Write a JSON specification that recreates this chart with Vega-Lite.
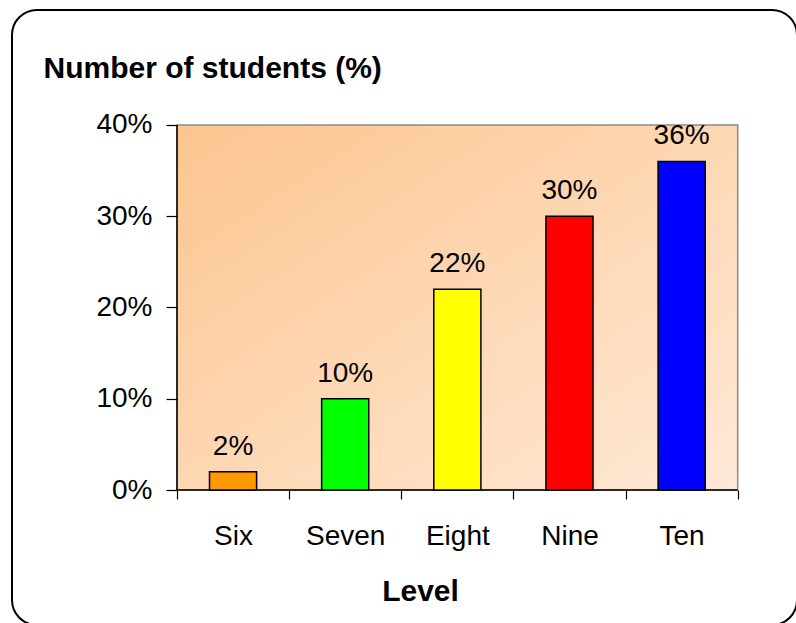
{
  "$schema": "https://vega.github.io/schema/vega-lite/v6.json",
  "width": 785,
  "height": 615,
  "autosize": {"type": "none"},
  "padding": {"left": 12, "top": 10, "right": -1, "bottom": -2},
  "background": "white",
  "view": {"stroke": "black", "strokeWidth": 2, "cornerRadius": 25, "fill": "white"},
  "config": {
    "font": "Liberation Sans",
    "axis": {"labelColor": "black", "titleColor": "black", "tickColor": "black", "labelFont": "Liberation Sans", "titleFont": "Liberation Sans"}
  },
  "datasets": {
    "levels": [
      {"level": "Six", "share": 0.02},
      {"level": "Seven", "share": 0.10},
      {"level": "Eight", "share": 0.22},
      {"level": "Nine", "share": 0.30},
      {"level": "Ten", "share": 0.36}
    ],
    "frame": [{}]
  },
  "resolve": {"scale": {"x": "independent"}},
  "layer": [
    {
      "data": {"name": "frame"},
      "mark": {
        "type": "rect",
        "fill": {
          "gradient": "linear",
          "x1": 0, "y1": 0, "x2": 1, "y2": 1,
          "stops": [
            {"offset": 0, "color": "#FCC58F"},
            {"offset": 1, "color": "#FFE9D7"}
          ]
        },
        "stroke": "#8a8a8a",
        "strokeWidth": 1.5
      },
      "encoding": {
        "x": {"datum": 0, "type": "quantitative", "scale": {"domain": [-1.47138, 5.5288], "nice": false, "zero": false}, "axis": null},
        "x2": {"datum": 5},
        "y": {"datum": 0, "type": "quantitative", "scale": {"domain": [-0.147945, 0.526027], "nice": false, "zero": false}},
        "y2": {"datum": 0.4}
      }
    },
    {
      "data": {"name": "frame"},
      "mark": {"type": "rule", "color": "black", "strokeWidth": 1.5},
      "encoding": {
        "x": {"datum": 0, "type": "quantitative", "scale": {"domain": [-1.47138, 5.5288], "nice": false, "zero": false}, "axis": null},
        "y": {"datum": 0, "type": "quantitative"},
        "y2": {"datum": 0.4}
      }
    },
    {
      "data": {"name": "frame"},
      "mark": {"type": "rule", "color": "black", "strokeWidth": 1.5},
      "encoding": {
        "x": {"datum": 0, "type": "quantitative", "scale": {"domain": [-1.47138, 5.5288], "nice": false, "zero": false}, "axis": null},
        "x2": {"datum": 5},
        "y": {"datum": 0, "type": "quantitative"}
      }
    },
    {
      "data": {"name": "levels"},
      "mark": {"type": "bar", "width": {"band": 0.42}, "stroke": "black", "strokeWidth": 1.5},
      "encoding": {
        "x": {
          "field": "level",
          "type": "nominal",
          "sort": ["Six", "Seven", "Eight", "Nine", "Ten"],
          "scale": {"type": "band", "paddingInner": 0, "paddingOuter": 1, "align": 0.7356},
          "axis": {
            "orient": "bottom",
            "offset": -135,
            "domain": false,
            "grid": false,
            "tickBand": "extent",
            "tickSize": 9,
            "tickWidth": 1.2,
            "labelAngle": 0,
            "labelPadding": 45,
            "labelBaseline": "alphabetic",
            "labelFontSize": 28,
            "title": "Level",
            "titleX": 408,
            "titleY": 110.7,
            "titleAlign": "center",
            "titleBaseline": "alphabetic",
            "titleFontSize": 30,
            "titleFontWeight": "bold"
          }
        },
        "y": {
          "field": "share",
          "type": "quantitative",
          "scale": {"domain": [-0.147945, 0.526027], "nice": false, "zero": false},
          "axis": {
            "orient": "left",
            "values": [0, 0.1, 0.2, 0.3, 0.4],
            "format": ".0%",
            "offset": -165,
            "zindex": 1,
            "domain": false,
            "grid": false,
            "tickSize": 11,
            "tickWidth": 1.2,
            "labelPadding": 14,
            "labelFontSize": 28,
            "title": "Number of students (%)",
            "titleAngle": 0,
            "titleX": -134,
            "titleY": 67,
            "titleAlign": "left",
            "titleBaseline": "alphabetic",
            "titleFontSize": 30,
            "titleFontWeight": "bold"
          }
        },
        "color": {
          "field": "level",
          "type": "nominal",
          "scale": {
            "domain": ["Six", "Seven", "Eight", "Nine", "Ten"],
            "range": ["#FF9900", "#00FF00", "#FFFF00", "#FF0000", "#0000FF"]
          },
          "legend": null
        }
      }
    },
    {
      "data": {"name": "levels"},
      "mark": {"type": "text", "baseline": "alphabetic", "dy": -17, "fontSize": 28, "color": "black"},
      "encoding": {
        "x": {
          "field": "level",
          "type": "nominal",
          "sort": ["Six", "Seven", "Eight", "Nine", "Ten"],
          "scale": {"type": "band", "paddingInner": 0, "paddingOuter": 1, "align": 0.7356},
          "axis": null
        },
        "y": {"field": "share", "type": "quantitative"},
        "text": {"field": "share", "type": "quantitative", "format": ".0%"}
      }
    }
  ]
}
